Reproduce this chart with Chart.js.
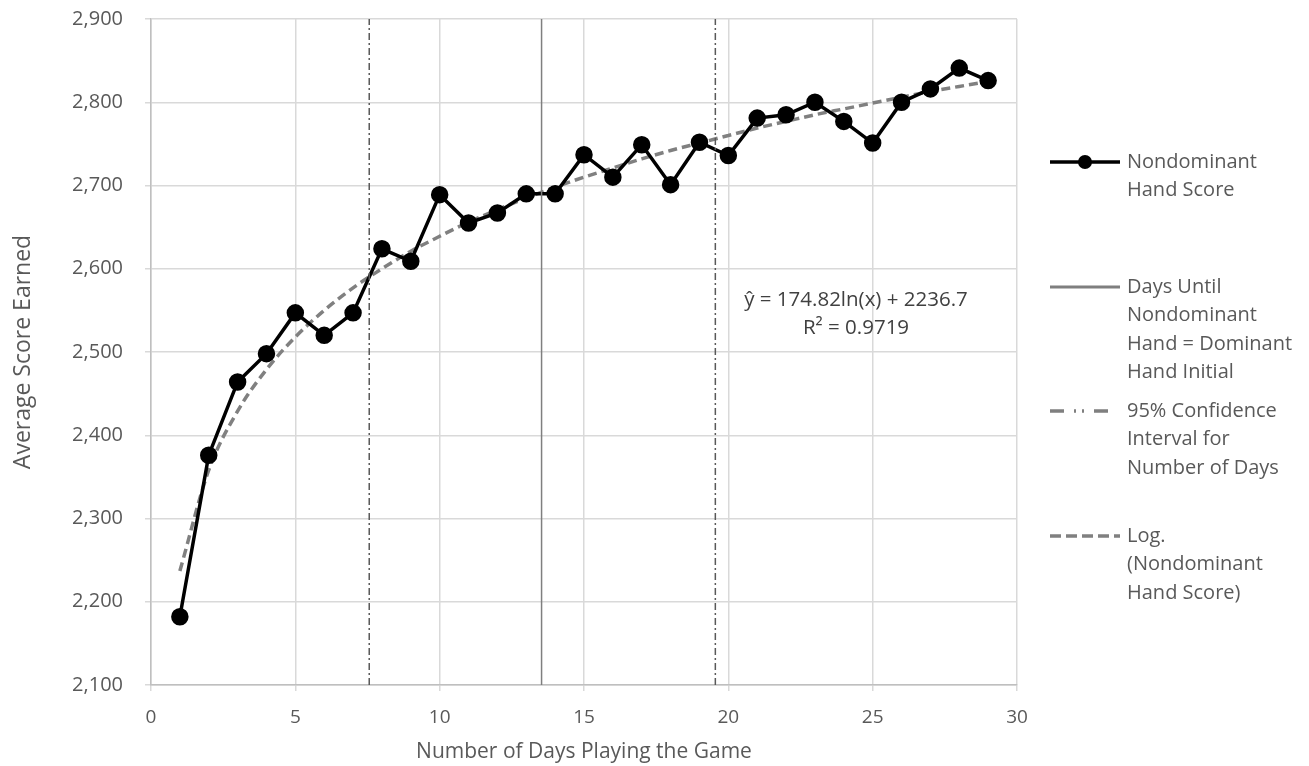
<!DOCTYPE html>
<html lang="en">
<head>
    <meta charset="UTF-8">
    <title>Nondominant Hand Score</title>
    <script src="https://cdn.jsdelivr.net/npm/chart.js@4.4.0/dist/chart.umd.min.js"></script>
    <style>
        body {
            margin: 0;
            background: #ffffff;
            overflow: hidden;
        }

        .chart-container {
            position: relative;
            width: 1309px;
            height: 766px;
        }
    </style>
</head>
<body>
    <div class="chart-container">
        <canvas id="scoreChart"></canvas>
    </div>

    <script>
        const days = [1, 2, 3, 4, 5, 6, 7, 8, 9, 10, 11, 12, 13, 14, 15, 16, 17, 18, 19, 20, 21, 22, 23, 24, 25, 26, 27, 28, 29];
        const scores = [2182, 2376, 2464, 2498, 2547, 2520, 2547, 2624, 2609, 2689, 2655, 2667, 2690, 2690, 2737,
                        2710, 2749, 2701, 2752, 2736, 2781, 2785, 2800, 2777, 2751, 2800, 2816, 2841, 2826];
        // values of the log trend line
        const trendScores = [2237, 2358, 2429, 2479, 2518, 2550, 2577, 2600, 2621, 2639, 2656, 2671, 2685, 2698, 2710,
                             2721, 2732, 2742, 2751, 2760, 2769, 2777, 2785, 2792, 2799, 2806, 2813, 2819, 2825];
        const equalDay = 13.53;
        const ciDays = [7.56, 19.55];
        const yRange = [2100, 2900];
        const legendLabels = [
            ['Nondominant', 'Hand Score'],
            ['Days Until', 'Nondominant', 'Hand = Dominant', 'Hand Initial'],
            ['95% Confidence', 'Interval for', 'Number of Days'],
            ['Log.', '(Nondominant', 'Hand Score)']
        ];
        const equationLines = ['\u0177 = 174.82ln(x) + 2236.7', 'R\u00b2 = 0.9719'];

        const textColor = '#595959';
        const fontFamily = "'Open Sans', sans-serif";

        function toPoints(xs, ys) {
            return xs.map((x, i) => ({ x: x, y: ys[i] }));
        }

        function vertical(x) {
            return [{ x: x, y: yRange[0] }, { x: x, y: yRange[1] }];
        }

        // legend + equation drawn on the canvas, Excel style
        const sideLegend = {
            id: 'sideLegend',
            afterDraw(chart) {
                const ctx = chart.ctx;
                ctx.save();
                ctx.font = "20px " + fontFamily;
                ctx.fillStyle = textColor;
                ctx.textBaseline = 'middle';

                const rowsY = [162, 287, 411, 536];
                const x0 = 1050, x1 = 1120, tx = 1127, lh = 28.5;

                legendLabels.forEach((lines, i) => {
                    lines.forEach((t, j) => {
                        ctx.textAlign = 'left';
                        ctx.fillText(t, tx, rowsY[i] + j * lh);
                    });
                });

                const ly = rowsY;
                // score
                ctx.strokeStyle = '#000000';
                ctx.lineWidth = 3.5;
                ctx.setLineDash([]);
                ctx.beginPath(); ctx.moveTo(x0, ly[0]); ctx.lineTo(x1, ly[0]); ctx.stroke();
                ctx.fillStyle = '#000000';
                ctx.beginPath(); ctx.arc((x0 + x1) / 2, ly[0], 7, 0, Math.PI * 2); ctx.fill();
                // days until
                ctx.strokeStyle = '#7f7f7f';
                ctx.lineWidth = 3;
                ctx.beginPath(); ctx.moveTo(x0, ly[1]); ctx.lineTo(x1, ly[1]); ctx.stroke();
                // confidence
                ctx.strokeStyle = '#7f7f7f';
                ctx.lineWidth = 3.5;
                ctx.setLineDash([14, 10, 2, 6, 2, 10]);
                ctx.beginPath(); ctx.moveTo(x0, ly[2]); ctx.lineTo(x1 - 10, ly[2]); ctx.stroke();
                // log
                ctx.strokeStyle = '#808080';
                ctx.setLineDash([11, 5]);
                ctx.beginPath(); ctx.moveTo(x0, ly[3]); ctx.lineTo(x1, ly[3]); ctx.stroke();
                ctx.setLineDash([]);

                // trend line equation
                ctx.font = "20.5px " + fontFamily;
                ctx.fillStyle = '#404040';
                ctx.textAlign = 'center';
                ctx.fillText(equationLines[0], 856, 300);
                ctx.fillText(equationLines[1], 856, 328);
                ctx.restore();
            }
        };

        document.addEventListener('DOMContentLoaded', function () {
            const ctx = document.getElementById('scoreChart').getContext('2d');
            new Chart(ctx, {
                type: 'scatter',
                data: {
                    datasets: [
                        {
                            label: 'Days Until Nondominant Hand = Dominant Hand Initial',
                            data: vertical(equalDay),
                            showLine: true,
                            borderColor: '#7f7f7f',
                            borderWidth: 1.5,
                            pointRadius: 0
                        },
                        {
                            label: '95% Confidence Interval for Number of Days',
                            data: vertical(ciDays[0]),
                            showLine: true,
                            borderColor: '#595959',
                            borderWidth: 1.5,
                            borderDash: [7, 3, 2, 3],
                            pointRadius: 0
                        },
                        {
                            label: '95% Confidence Interval (upper)',
                            data: vertical(ciDays[1]),
                            showLine: true,
                            borderColor: '#595959',
                            borderWidth: 1.5,
                            borderDash: [7, 3, 2, 3],
                            pointRadius: 0
                        },
                        {
                            label: 'Nondominant Hand Score',
                            data: toPoints(days, scores),
                            showLine: true,
                            borderColor: '#000000',
                            backgroundColor: '#000000',
                            borderWidth: 3.5,
                            pointRadius: 7,
                            pointHoverRadius: 7
                        },
                        {
                            label: 'Log. (Nondominant Hand Score)',
                            data: toPoints(days, trendScores),
                            showLine: true,
                            borderColor: '#808080',
                            borderWidth: 3.5,
                            borderDash: [9, 5],
                            pointRadius: 0,
                            cubicInterpolationMode: 'monotone'
                        }
                    ]
                },
                options: {
                    responsive: true,
                    maintainAspectRatio: false,
                    animation: false,
                    layout: {
                        padding: { top: 19, right: 292, bottom: 0, left: 0 }
                    },
                    plugins: {
                        legend: { display: false },
                        tooltip: { enabled: false }
                    },
                    scales: {
                        x: {
                            type: 'linear',
                            min: 0,
                            max: 30,
                            ticks: {
                                stepSize: 5,
                                color: textColor,
                                font: { family: fontFamily, size: 19 },
                                padding: 15
                            },
                            grid: {
                                color: '#d9d9d9',
                                lineWidth: 1.5,
                                tickLength: 6
                            },
                            border: { color: '#bfbfbf', width: 1.5 },
                            title: {
                                display: true,
                                text: 'Number of Days Playing the Game',
                                color: textColor,
                                font: { family: fontFamily, size: 21 },
                                padding: { top: 4, bottom: 1 }
                            },
                            afterFit(scale) { scale.height = 81; }
                        },
                        y: {
                            min: yRange[0],
                            max: yRange[1],
                            ticks: {
                                stepSize: 100,
                                color: textColor,
                                font: { family: fontFamily, size: 20 },
                                padding: 22,
                                callback: v => v.toLocaleString('en-US')
                            },
                            grid: {
                                color: '#d9d9d9',
                                lineWidth: 1.5,
                                tickLength: 6
                            },
                            border: { color: '#bfbfbf', width: 1.5 },
                            title: {
                                display: true,
                                text: 'Average Score Earned',
                                color: textColor,
                                font: { family: fontFamily, size: 23 },
                                padding: { top: 10, bottom: 0 }
                            },
                            afterFit(scale) {
                                scale.width = 151;
                                scale.paddingTop = 10;
                                scale.paddingBottom = 10;
                            }
                        }
                    }
                },
                plugins: [sideLegend]
            });
        });
    </script>
</body>
</html>
